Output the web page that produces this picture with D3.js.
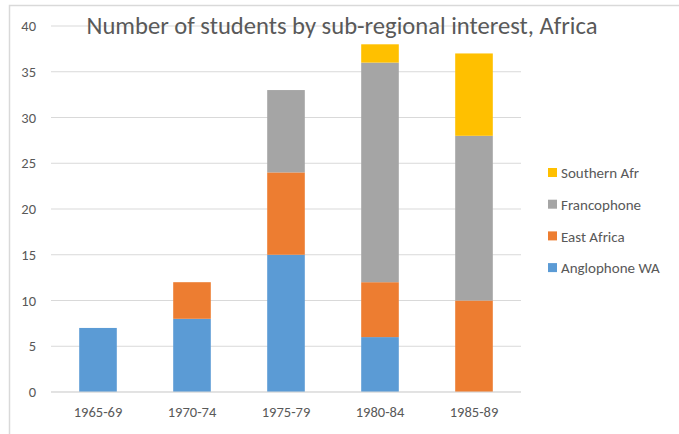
<!DOCTYPE html>
<html>
<head>
<meta charset="utf-8">
<script src="https://cdn.jsdelivr.net/npm/d3@7"></script>
<style>
  body { margin: 0; background: #fff; }
  text { font-family: Calibri, Carlito, "Open Sans", sans-serif; fill: #595959; }
</style>
</head>
<body>
<div id="chart"></div>
<script>
const periods = ['1965-69', '1970-74', '1975-79', '1980-84', '1985-89'];
const seriesNames = ['Anglophone WA', 'East Africa', 'Francophone', 'Southern Afr'];
const anglophoneWA = [7, 8, 15, 6, 0];
const eastAfrica = [0, 4, 9, 6, 10];
const francophone = [0, 0, 9, 24, 18];
const southernAfr = [0, 0, 0, 2, 9];
const yTicks = [0, 5, 10, 15, 20, 25, 30, 35, 40];
const colors = ['#5B9BD5', '#ED7D31', '#A5A5A5', '#FFC000'];

const width = 679, height = 434;
const margin = {top: 26, bottom: 42, left: 51, right: 158};

const rows = periods.map((p, i) => ({
  period: p,
  'Anglophone WA': anglophoneWA[i],
  'East Africa': eastAfrica[i],
  'Francophone': francophone[i],
  'Southern Afr': southernAfr[i]
}));

const svg = d3.select('#chart').append('svg')
  .attr('width', width)
  .attr('height', height);

// chart frame
svg.append('rect')
  .attr('x', 9.5).attr('y', 5.5)
  .attr('width', 720).attr('height', 500)
  .attr('fill', 'none')
  .attr('stroke', '#d9d9d9')
  .attr('stroke-width', 1.5);

const x = d3.scaleBand().domain(periods)
  .range([margin.left, width - margin.right])
  .paddingInner(0.6).paddingOuter(0.3);
const y = d3.scaleLinear().domain([0, 40])
  .range([height - margin.bottom, margin.top]);

// gridlines
svg.append('g')
  .selectAll('line')
  .data(yTicks)
  .enter().append('line')
  .attr('x1', margin.left).attr('x2', width - margin.right)
  .attr('y1', d => y(d)).attr('y2', d => y(d))
  .attr('stroke', '#d9d9d9')
  .attr('stroke-width', 1);

// y tick labels
const yAxis = svg.append('g')
  .attr('transform', 'translate(' + margin.left + ',0)')
  .call(d3.axisLeft(y).tickValues(yTicks).tickSize(0).tickPadding(15));
yAxis.select('.domain').remove();
yAxis.selectAll('text').style('font-size', '14.5px').attr('fill', '#595959');

// x tick labels
const xAxis = svg.append('g')
  .attr('transform', 'translate(0,' + y(0) + ')')
  .call(d3.axisBottom(x).tickSize(0).tickPadding(15));
xAxis.select('.domain').remove();
xAxis.selectAll('text').style('font-size', '14.5px').attr('fill', '#595959');

// stacked bars
const stacked = d3.stack().keys(seriesNames)(rows);
svg.append('g')
  .selectAll('g')
  .data(stacked)
  .enter().append('g')
  .attr('fill', (d, i) => colors[i])
  .selectAll('rect')
  .data(d => d)
  .enter().append('rect')
  .attr('x', d => x(d.data.period))
  .attr('width', x.bandwidth())
  .attr('y', d => y(d[1]))
  .attr('height', d => y(d[0]) - y(d[1]));

// baseline
svg.append('line')
  .attr('x1', margin.left).attr('x2', width - margin.right)
  .attr('y1', y(0)).attr('y2', y(0))
  .attr('stroke', '#d9d9d9');

// title
svg.append('text')
  .attr('x', 342).attr('y', 34)
  .attr('text-anchor', 'middle')
  .style('font-size', '24.6px')
  .text('Number of students by sub-regional interest, Africa');

// legend (reverse order, top = Southern Afr)
const legendItems = seriesNames.map((s, i) => ({name: s, color: colors[i]})).reverse();
const legend = svg.append('g')
  .selectAll('g')
  .data(legendItems)
  .enter().append('g')
  .attr('transform', (d, i) => 'translate(548,' + (173 + i * 31.7) + ')');
legend.append('rect')
  .attr('x', 0).attr('y', -5)
  .attr('width', 9).attr('height', 9)
  .attr('fill', d => d.color);
legend.append('text')
  .attr('x', 13).attr('y', 0)
  .attr('dy', '0.35em')
  .style('font-size', '15px')
  .text(d => d.name);
</script>
</body>
</html>
